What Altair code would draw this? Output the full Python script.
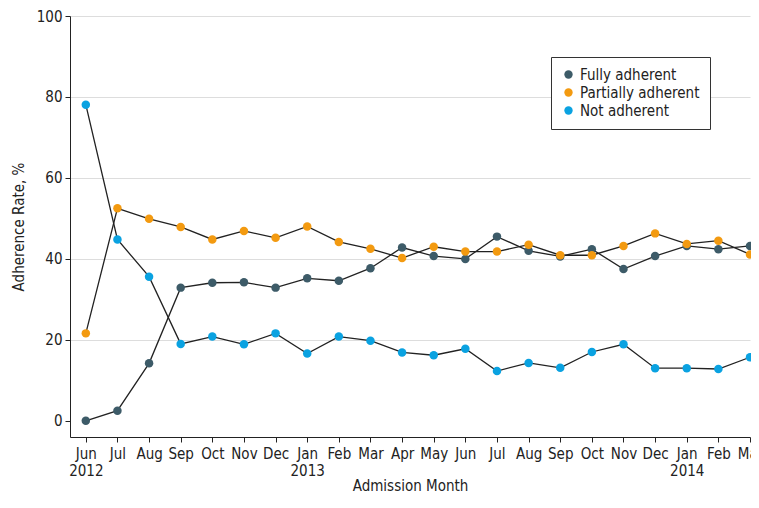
import altair as alt
import pandas as pd

months = ["Jun", "Jul", "Aug", "Sep", "Oct", "Nov", "Dec",
          "Jan", "Feb", "Mar", "Apr", "May", "Jun", "Jul", "Aug", "Sep", "Oct", "Nov", "Dec",
          "Jan", "Feb", "Mar"]
years = ["2012", "", "", "", "", "", "",
         "2013", "", "", "", "", "", "", "", "", "", "", "",
         "2014", "", ""]

fully = [0.0, 2.5, 14.2, 32.9, 34.1, 34.2, 32.9, 35.2, 34.6, 37.7, 42.8,
         40.7, 40.0, 45.5, 42.0, 40.6, 42.4, 37.5, 40.7, 43.2, 42.4, 43.2]
partial = [21.6, 52.5, 49.9, 47.9, 44.8, 46.9, 45.2, 48.0, 44.2, 42.5, 40.2,
           43.0, 41.8, 41.8, 43.5, 40.9, 40.9, 43.2, 46.3, 43.7, 44.5, 41.1]
notadh = [78.1, 44.8, 35.6, 19.0, 20.8, 18.9, 21.6, 16.6, 20.8, 19.8, 16.9,
          16.2, 17.8, 12.3, 14.3, 13.1, 17.0, 18.9, 13.0, 13.0, 12.8, 15.7]

series_names = ["Fully adherent", "Partially adherent", "Not adherent"]
series_colors = ["#3d5b68", "#f39a10", "#0aa2e1"]

rows = []
for name, vals in zip(series_names, [fully, partial, notadh]):
    for i, v in enumerate(vals):
        rows.append({"idx": i, "value": v, "series": name})
df = pd.DataFrame(rows)

label_arr = "[" + ",".join(
    ("['%s','%s']" % (m, y)) if y else ("'%s'" % m) for m, y in zip(months, years)
) + "]"

FONT = "Liberation Sans Narrow, DejaVu Sans Condensed, Roboto, sans-serif"

x_enc = alt.X(
    "idx:Q",
    scale=alt.Scale(domain=[-0.5, 21], nice=False, zero=False),
    axis=alt.Axis(
        values=list(range(22)),
        labelExpr=label_arr + "[datum.value]",
        labelOverlap=False,
        labelFlush=False,
        grid=False,
        title="Admission Month",
        tickSize=5,
        labelPadding=4,
        labelLineHeight=17,
        titlePadding=0,
    ),
)
y_enc = alt.Y(
    "value:Q",
    scale=alt.Scale(domain=[-4, 100], nice=False, zero=False),
    axis=alt.Axis(
        values=[0, 20, 40, 60, 80, 100],
        title="Adherence Rate, %",
        tickSize=5,
        labelPadding=3,
        titlePadding=10,
        grid=True,
        gridOpacity={"condition": {"test": "datum.value === 0", "value": 0}, "value": 1},
    ),
)

base = alt.Chart(df)
lines = base.mark_line(color="#222222", strokeWidth=1.3).encode(
    x=x_enc, y=y_enc, detail="series:N"
)
points = base.mark_circle(size=72, opacity=1).encode(
    x=x_enc,
    y=y_enc,
    color=alt.Color(
        "series:N",
        scale=alt.Scale(domain=series_names, range=series_colors),
        sort=series_names,
        legend=alt.Legend(
            title=None,
            orient="none",
            legendX=481,
            legendY=41,
            strokeColor="#333333",
            fillColor="white",
            padding=10,
            symbolType="circle",
            symbolSize=70,
            labelFontSize=15,
            labelColor="#222222",
            labelFont=FONT,
            rowPadding=2,
            cornerRadius=0,
        ),
    ),
)

chart = (
    alt.layer(lines, points)
    .properties(
        width=680,
        height=421,
        autosize=alt.AutoSizeParams(type="none"),
        padding={"left": 62, "top": 8, "right": 1, "bottom": 58},
    )
    .configure(font=FONT)
    .configure_view(stroke=None)
    .configure_axis(
        labelFont=FONT,
        titleFont=FONT,
        labelFontSize=15,
        titleFontSize=15,
        titleFontWeight="normal",
        labelColor="#222222",
        titleColor="#222222",
        domainColor="#222222",
        tickColor="#222222",
        gridColor="#dddddd",
    )
)

chart.save("out.html", embed_options={"renderer": "svg", "actions": False})
